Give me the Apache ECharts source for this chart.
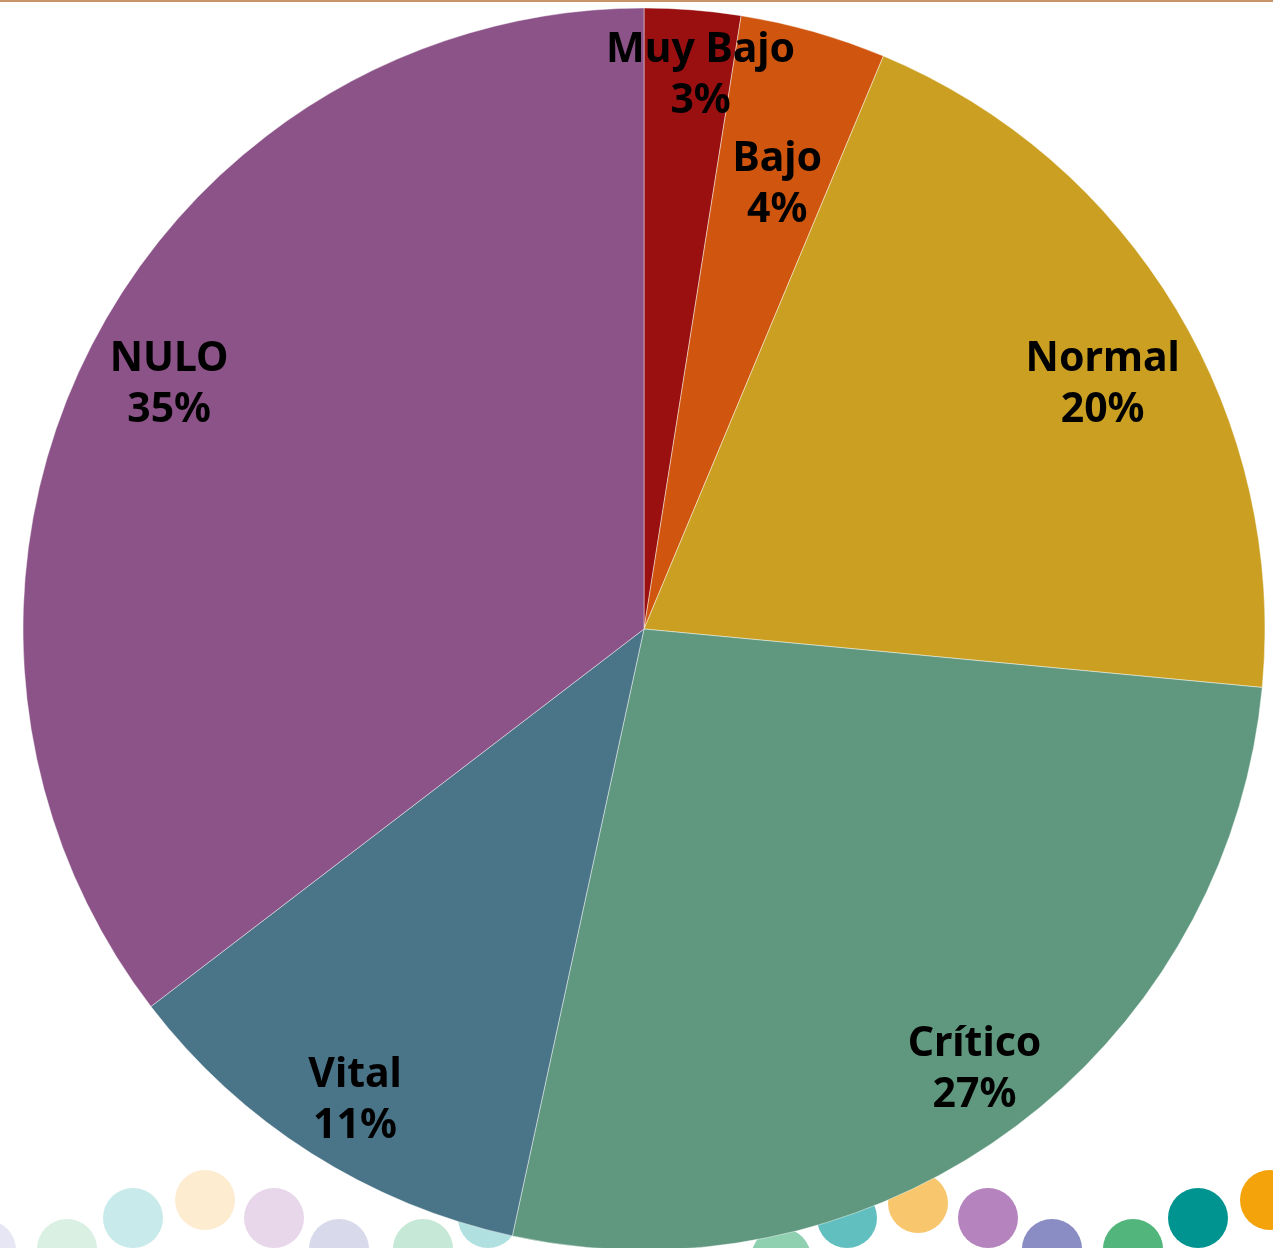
<!DOCTYPE html>
<html>
<head>
<meta charset="utf-8">
<title>Distribución por nivel</title>
<script src="https://cdn.jsdelivr.net/npm/echarts@6/dist/echarts.min.js"></script>
<style>
  html, body { margin: 0; padding: 0; background: #ffffff; }
  #chart { width: 1273px; height: 1248px; }
</style>
</head>
<body>
<div id="chart"></div>
<script>
// Share of each level (percent)
const categories = ['Muy Bajo', 'Bajo', 'Normal', 'Crítico', 'Vital', 'NULO'];
const shares = [2.5, 3.8, 20.2, 26.9, 11.2, 35.4];
const sliceColors = ['#9a1010', '#d0560f', '#cba022', '#5f987f', '#4a7488', '#8b5388'];

// Small label nudges (px) from the default label ring
const labelNudge = {
  'Muy Bajo': [14, -12],
  'Bajo': [-15, 78],
  'Normal': [-7, 35],
  'Crítico': [10, 3],
  'Vital': [2, 13],
  'NULO': [12, -4]
};

// Decorative dot band along the bottom edge: [x, y, color]
const dots = [
  [-14, 1250, '#e6e6f4'], [67, 1249, '#d9f0e3'], [133, 1218, '#c8eaea'],
  [205, 1200, '#fdecd0'], [274, 1218, '#e8d6ea'], [339, 1249, '#d8daec'],
  [423, 1249, '#c6e8d6'], [488, 1218, '#b0e0e0'], [781, 1258, '#8fd0b0'],
  [847, 1218, '#62bfbf'], [918, 1203, '#f8c66c'], [988, 1218, '#b583bd'],
  [1052, 1249, '#8a8cc4'], [1133, 1249, '#52b57c'], [1198, 1218, '#009490'],
  [1270, 1200, '#f5a30b']
];

const total = shares.reduce((a, b) => a + b, 0);

const pieData = categories.map((name, i) => ({
  name: name,
  value: shares[i],
  itemStyle: { color: sliceColors[i] }
}));

const labelData = categories.map((name, i) => ({
  name: name,
  value: shares[i],
  label: { offset: labelNudge[name] }
}));

const chart = echarts.init(document.getElementById('chart'), null, { renderer: 'canvas' });

const graphicEls = dots.map(d => ({
  type: 'circle',
  shape: { cx: d[0], cy: d[1], r: 30 },
  style: { fill: d[2] },
  silent: true,
  z: 0
}));
graphicEls.push({
  type: 'rect',
  shape: { x: 0, y: 0, width: 1273, height: 2 },
  style: { fill: '#c8956a' },
  silent: true,
  z: 0
});

chart.setOption({
  animation: false,
  backgroundColor: '#ffffff',
  graphic: graphicEls,
  series: [
    {
      type: 'pie',
      center: [644, 629],
      radius: [0, 621],
      startAngle: 90,
      clockwise: true,
      silent: true,
      z: 2,
      label: { show: false },
      labelLine: { show: false },
      itemStyle: { borderColor: 'rgba(255,255,255,0.55)', borderWidth: 0.8 },
      emphasis: { disabled: true },
      data: pieData
    },
    {
      type: 'pie',
      center: [644, 629],
      radius: [459, 621],
      startAngle: 90,
      clockwise: true,
      silent: true,
      z: 3,
      itemStyle: { color: 'rgba(0,0,0,0)', borderWidth: 0 },
      labelLine: { show: false },
      emphasis: { disabled: true },
      label: {
        show: true,
        position: 'inside',
        formatter: p => p.name + '\n' + Math.round(p.value / total * 100) + '%',
        fontFamily: 'Noto Sans',
        fontWeight: 'bold',
        fontSize: 41,
        lineHeight: 51,
        color: '#000000',
        align: 'center'
      },
      data: labelData
    }
  ]
});
</script>
</body>
</html>
